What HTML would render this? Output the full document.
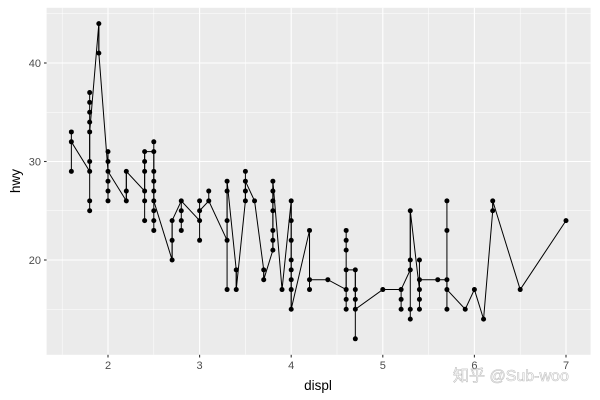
<!DOCTYPE html>
<html><head><meta charset="utf-8"><style>
html,body{margin:0;padding:0;background:#fff;width:600px;height:400px;overflow:hidden}
svg{display:block;font-family:"Liberation Sans","Noto Sans CJK SC",sans-serif}
</style></head><body>
<svg id="s" width="600" height="400" xmlns="http://www.w3.org/2000/svg">
<rect x="46.6" y="7.8" width="544" height="347" fill="#EBEBEB"/>
<g id="grid"></g>
<g id="data"></g>
<g id="axes" fill="#4D4D4D" font-size="11"></g>
<text x="318" y="390" font-size="13.5" text-anchor="middle" fill="#000">displ</text>
<text transform="translate(20,181) rotate(-90)" font-size="13.5" text-anchor="middle" fill="#000">hwy</text>
<text x="453" y="381" font-size="16" fill="#ffffff" stroke="#bbbbbb" stroke-width="0.6" opacity="0.9">知乎 @Sub-woo</text>
</svg>
<script>
var X=function(d){return 108+(d-2)*91.6;},Y=function(h){return 260-(h-20)*9.85;};
var NS="http://www.w3.org/2000/svg";
function el(p,t,a,txt){var e=document.createElementNS(NS,t);for(var k in a)e.setAttribute(k,a[k]);if(txt)e.textContent=txt;p.appendChild(e);return e;}
var g=document.getElementById('grid');
[1.5,2.5,3.5,4.5,5.5,6.5].forEach(function(d){el(g,'line',{x1:X(d),x2:X(d),y1:7.8,y2:354.8,stroke:'#fff','stroke-width':0.55});});
[15,25,35,45].forEach(function(h){el(g,'line',{x1:46.6,x2:590.6,y1:Y(h),y2:Y(h),stroke:'#fff','stroke-width':0.55});});
[2,3,4,5,6,7].forEach(function(d){el(g,'line',{x1:X(d),x2:X(d),y1:7.8,y2:354.8,stroke:'#fff','stroke-width':1.1});});
[20,30,40].forEach(function(h){el(g,'line',{x1:46.6,x2:590.6,y1:Y(h),y2:Y(h),stroke:'#fff','stroke-width':1.1});});
var a=document.getElementById('axes');
[2,3,4,5,6,7].forEach(function(d){el(a,'line',{x1:X(d),x2:X(d),y1:354.8,y2:357.5,stroke:'#333','stroke-width':1.1});el(a,'text',{x:X(d),y:369,'text-anchor':'middle'},''+d);});
[20,30,40].forEach(function(h){el(a,'line',{x1:44,x2:46.6,y1:Y(h),y2:Y(h),stroke:'#333','stroke-width':1.1});el(a,'text',{x:41,y:Y(h)+4,'text-anchor':'end'},''+h);});
var G=[
[1.6,[33,32,29],32,32],
[1.8,[37,36,35,34,33,30,29,26,25],29,33],
[1.9,[44,41],44,41],
[2.0,[31,30,29,28,27,26],29,29],
[2.2,[29,27,26],26,29],
[2.4,[31,30,29,27,26,24],27,31],
[2.5,[32,31,29,28,27,26,25,24,23],31,26],
[2.7,[24,22,20],20,24],
[2.8,[26,25,24,23],26,26],
[3.0,[26,25,24,22],24,25],
[3.1,[27,26],26,26],
[3.3,[28,27,24,22,17],22,28],
[3.4,[19,17],19,17],
[3.5,[29,28,27,26],26,28],
[3.6,[26],26,26],
[3.7,[19,18],19,18],
[3.8,[28,27,26,25,23,22,21],21,28],
[3.9,[17],17,17],
[4.0,[26,24,22,20,19,18,17,15],26,15],
[4.2,[23,18,17],23,18],
[4.4,[18],18,18],
[4.6,[23,22,21,19,17,16,15],17,19],
[4.7,[19,17,16,15,12],19,15],
[5.0,[17],17,17],
[5.2,[17,16,15],17,17],
[5.3,[25,20,19,15,14],19,25],
[5.4,[20,18,17,16,15],17,18],
[5.6,[18],18,18],
[5.7,[26,23,18,17,15],18,17],
[5.9,[15],15,15],
[6.0,[17],17,17],
[6.1,[14],14,14],
[6.2,[26,25],25,26],
[6.5,[17],17,17],
[7.0,[24],24,24]];
var D=document.getElementById('data'),p='';
G.forEach(function(q,i){var x=X(q[0]);p+=(i?'L':'M')+x+','+Y(q[2])+'L'+x+','+Y(q[3]);
 var mn=Math.min.apply(0,q[1]),mx=Math.max.apply(0,q[1]);
 if(mn!=mx)el(D,'line',{x1:x,x2:x,y1:Y(mn),y2:Y(mx),stroke:'#000','stroke-width':1});});
el(D,'path',{d:p,fill:'none',stroke:'#000','stroke-width':1});
G.forEach(function(q){q[1].forEach(function(h){el(D,'circle',{cx:X(q[0]),cy:Y(h),r:2.5,fill:'#000'});});});
</script>
</body></html>
